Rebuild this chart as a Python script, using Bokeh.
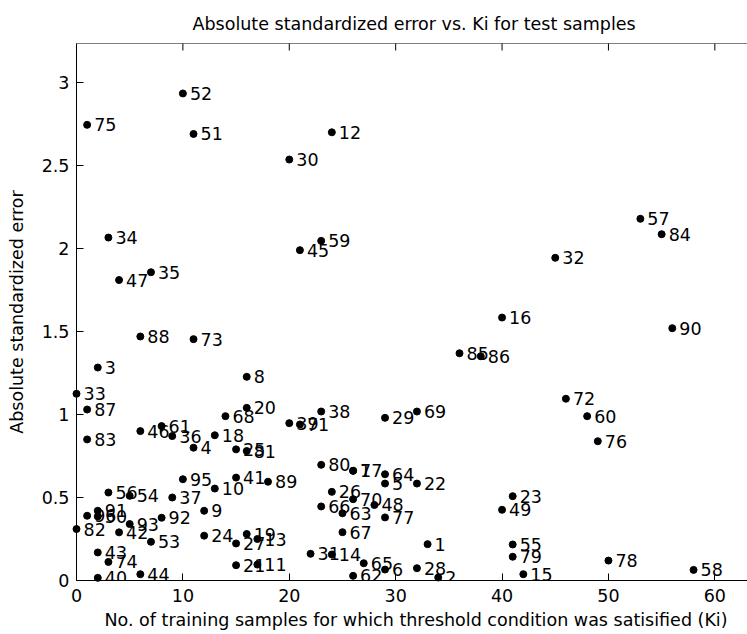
import math
from bokeh.plotting import figure
from bokeh.models import FixedTicker, ColumnDataSource, CustomJSTickFormatter, Span, Title
from bokeh.core.properties import value
from bokeh.embed import file_html
from bokeh.resources import INLINE

# ---- data ----
sample_ids = [1, 2, 3, 4, 5, 6, 7, 8, 9, 10,
              11, 12, 13, 14, 15, 16, 17, 18, 19, 20,
              21, 22, 23, 24, 25, 26, 27, 28, 29, 30,
              31, 32, 33, 34, 35, 36, 37, 38, 39, 40,
              41, 42, 43, 44, 45, 46, 47, 48, 49, 50,
              51, 52, 53, 54, 55, 56, 57, 58, 59, 60,
              61, 62, 63, 64, 65, 66, 67, 68, 69, 70,
              71, 72, 73, 74, 75, 76, 77, 78, 79, 80,
              81, 82, 83, 84, 85, 86, 87, 88, 89, 90,
              91, 92, 93, 96, 95]
ki_values = [33, 34, 2, 11, 29, 29, 26, 16, 12, 13,
             17, 24, 17, 24, 42, 40, 26, 13, 16, 16,
             15, 32, 41, 12, 15, 24, 15, 32, 29, 20,
             22, 45, 0, 3, 7, 9, 9, 23, 20, 2,
             15, 4, 2, 6, 21, 6, 4, 28, 40, 2,
             11, 10, 7, 5, 41, 3, 53, 58, 23, 48,
             8, 26, 25, 29, 27, 23, 25, 14, 32, 26,
             21, 46, 11, 3, 1, 49, 29, 50, 41, 23,
             16, 0, 1, 55, 36, 38, 1, 6, 18, 56,
             2, 8, 5, 1, 10]
abs_std_error = [0.219, 0.018, 1.283, 0.800, 0.584, 0.066, 0.661, 1.227, 0.420, 0.554,
                 0.096, 2.700, 0.250, 0.157, 0.038, 1.584, 0.661, 0.875, 0.280, 1.040,
                 0.092, 0.584, 0.508, 0.270, 0.790, 0.534, 0.223, 0.074, 0.980, 2.536,
                 0.161, 1.944, 1.125, 2.066, 1.857, 0.870, 0.500, 1.018, 0.948, 0.016,
                 0.620, 0.290, 0.169, 0.038, 1.990, 0.900, 1.810, 0.455, 0.426, 0.386,
                 2.690, 2.934, 0.233, 0.510, 0.217, 0.530, 2.179, 0.064, 2.046, 0.990,
                 0.930, 0.028, 0.405, 0.640, 0.104, 0.446, 0.291, 0.990, 1.018, 0.490,
                 0.940, 1.095, 1.454, 0.112, 2.745, 0.839, 0.380, 0.120, 0.143, 0.697,
                 0.780, 0.310, 0.850, 2.086, 1.369, 1.351, 1.030, 1.470, 0.595, 1.520,
                 0.420, 0.378, 0.340, 0.390, 0.610]
x_ticks = [0, 10, 20, 30, 40, 50, 60]
y_ticks = [0, 0.5, 1, 1.5, 2, 2.5, 3]

title_text = "Absolute standardized error vs. Ki for test samples"
x_label = "No. of training samples for which threshold condition was satisified (Ki)"
y_label = "Absolute standardized error"

X_END = 63.07
Y_END = 3.235

FONT = "DejaVu Sans"
FS = "17.5px"

src = ColumnDataSource(dict(
    ki=ki_values,
    err=abs_std_error,
    label=[str(s) for s in sample_ids],
))
top_src = ColumnDataSource(dict(x=x_ticks, y=[Y_END] * len(x_ticks)))

p = figure(width=747, height=634, x_range=(0, X_END), y_range=(0, Y_END),
           output_backend="svg", toolbar_location=None,
           min_border_left=76, min_border_right=0, min_border_top=43, min_border_bottom=54)
p.background_fill_color = "white"
p.border_fill_color = "white"
p.outline_line_color = None
p.grid.visible = False

p.title.text = title_text
p.title.text_font = FONT
p.title.text_font_size = FS
p.title.text_font_style = "normal"
p.title.text_color = "black"
p.title.align = "left"
p.title.offset = 116
p.title.standoff = 20

fmt = CustomJSTickFormatter(code="return tick.toString();")

def style_axis(ax):
    ax.axis_line_color = "black"
    ax.axis_line_width = 1
    ax.major_tick_line_color = "black"
    ax.major_tick_in = 7
    ax.major_tick_out = 0
    ax.minor_tick_line_color = None
    ax.major_label_text_font = FONT
    ax.major_label_text_font_size = FS
    ax.major_label_text_color = "black"
    ax.axis_label_text_font = FONT
    ax.axis_label_text_font_size = FS
    ax.axis_label_text_font_style = "normal"
    ax.axis_label_text_color = "black"

xa = p.xaxis[0]
ya = p.yaxis[0]
style_axis(xa)
style_axis(ya)
xa.ticker = FixedTicker(ticks=x_ticks)
ya.ticker = FixedTicker(ticks=y_ticks)
xa.formatter = fmt
ya.formatter = fmt
ya.axis_label = y_label
xa.major_label_standoff = 8
ya.major_label_standoff = 7
ya.axis_label_standoff = 12

# x label as a below-title so it can be centred on the full (cropped) axes box
xlab = Title(text=x_label, align="left", offset=28, standoff=6,
             text_font=FONT, text_font_size=FS, text_font_style="normal",
             text_color="black")
p.add_layout(xlab, "below")

# top box edge with inward ticks
p.add_layout(Span(location=Y_END, dimension="width", line_color="black", line_width=1))
p.scatter(x="x", y="y", source=top_src, marker="dash", angle=math.pi / 2,
          size=14, line_color="black", line_width=1)

p.text(x="ki", y="err", text="label", source=src, x_offset=7,
       text_baseline="middle", text_align="left",
       text_font=value(FONT), text_font_size=FS, text_color="black")
p.scatter(x="ki", y="err", source=src, size=7, color="black", level="overlay")

open("out.html", "w").write(file_html(p, INLINE))
